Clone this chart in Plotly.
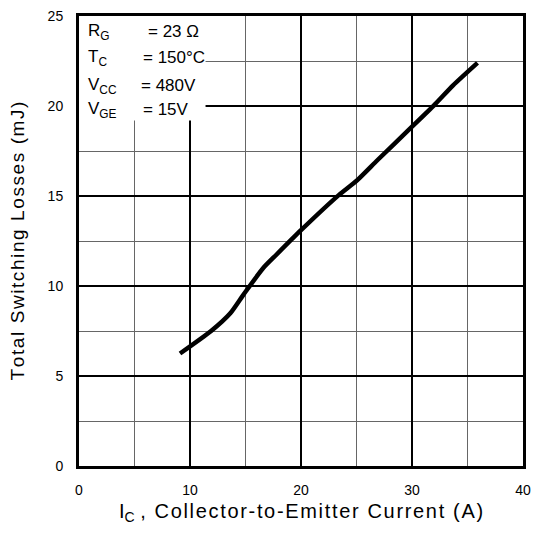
import plotly.graph_objects as go

# Data
ic = [9.1, 11.9, 13.65, 14.85, 16.6, 17.8, 20.0, 23.4, 25.1, 26.9, 30.0, 32.0, 33.7, 35.9]
losses = [6.25, 7.5, 8.5, 9.55, 11.0, 11.75, 13.1, 15.05, 15.9, 17.0, 18.85, 20.05, 21.15, 22.4]

x_ticks = [0, 10, 20, 30, 40]
y_ticks = [0, 5, 10, 15, 20, 25]

cond_labels = ["R<sub>G</sub>", "T<sub>C</sub>", "V<sub>CC</sub>", "V<sub>GE</sub>"]
cond_values = ["= 23 Ω", "= 150°C", "= 480V", "= 15V"]

FONT = "Liberation Sans, Arial, sans-serif"
HS = "\u200a"  # hair space for letter spacing


def spaced(s):
    return HS.join(s)


fig = go.Figure()
fig.add_trace(go.Scatter(x=ic, y=losses, mode="lines",
                         line=dict(color="black", width=4.5, shape="spline", smoothing=0.6),
                         showlegend=False, hoverinfo="skip"))

# white box behind the condition text (covers gridlines)
fig.add_shape(type="rect", xref="x", yref="y", x0=0, x1=11.4, y0=19.2, y1=25,
              fillcolor="white", line=dict(width=0), layer="between")

row_y = [30, 56, 84, 108]
val_x = [147, 142, 140, 142]
for lab, val, yy, vx in zip(cond_labels, cond_values, row_y, val_x):
    fig.add_annotation(text=lab, xref="paper", yref="paper", x=(86 - 79) / 452,
                       y=1 - (yy - 14) / 452, xanchor="left", yanchor="middle",
                       showarrow=False, font=dict(family=FONT, size=17, color="black"))
    fig.add_annotation(text=val, xref="paper", yref="paper", x=(vx - 79) / 452,
                       y=1 - (yy - 14) / 452, xanchor="left", yanchor="middle",
                       showarrow=False, font=dict(family=FONT, size=17, color="black"))

axis_common = dict(showline=True, linecolor="black", linewidth=3, mirror=True,
                   ticks="", zeroline=False,
                   showgrid=True, gridcolor="black", gridwidth=2,
                   tickfont=dict(family=FONT, size=14, color="black"))

fig.update_xaxes(range=[0, 40], tickvals=x_ticks, ticktext=[str(v) for v in x_ticks],
                 minor=dict(dtick=5, showgrid=True, gridcolor="#666666", gridwidth=1, tick0=0),
                 title=dict(text="I<sub>C</sub> " + spaced(", Collector-to-Emitter Current (A)"),
                            font=dict(family=FONT, size=20, color="black"), standoff=8),
                 ticklabelstandoff=9,
                 **axis_common)
fig.update_yaxes(range=[0, 25], tickvals=y_ticks, ticktext=[str(v) for v in y_ticks],
                 minor=dict(dtick=2.5, showgrid=True, gridcolor="#666666", gridwidth=1, tick0=0),
                 title=dict(text=spaced("Total Switching Losses (mJ)"),
                            font=dict(family=FONT, size=19, color="black"), standoff=18),
                 ticklabelstandoff=10,
                 **axis_common)

fig.update_layout(width=539, height=536,
                  margin=dict(l=79, r=8, t=14, b=70),
                  plot_bgcolor="white", paper_bgcolor="white",
                  showlegend=False)

fig.write_html("out.html")
